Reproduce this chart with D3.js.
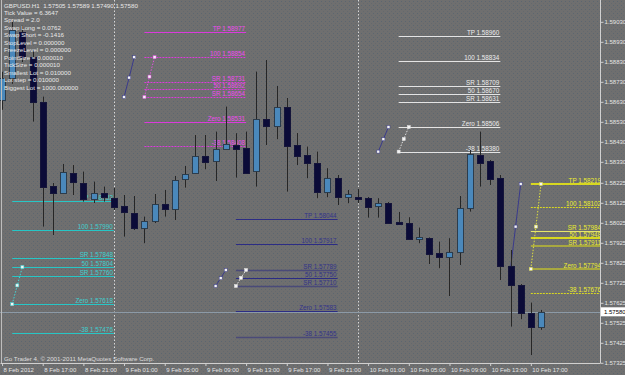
<!DOCTYPE html>
<html><head><meta charset="utf-8">
<script src="https://cdn.jsdelivr.net/npm/d3@7"></script>
<style>
html,body{margin:0;padding:0;background:#6d6d6d;}
svg{display:block;font-family:"Liberation Sans",Arial,sans-serif;}
</style></head><body>
<svg id="c" width="625" height="375"></svg>
<script>
// ---------- DATA ----------
const symbolHeader = "GBPUSD.H1  1.57505 1.57589 1.57490 1.57580";
const infoLines = ["Tick Value = 6.3647","Spread = 2.0","Swap Long = 0.0762","Swap Short = -0.1416",
  "StopLevel = 0.000000","FreezeLevel = 0.000000","PointSize = 0.000010","TickSize = 0.000010",
  "Smallest Lot = 0.010000","Lot step = 0.010000","Biggest Lot = 1000.000000"];
const copyright = "Go Trader 4, \u00a9 2001-2011 MetaQuotes Software Corp.";

const times = [
 "2012-02-08 13:00","2012-02-08 14:00","2012-02-08 15:00","2012-02-08 16:00","2012-02-08 17:00","2012-02-08 18:00",
 "2012-02-08 19:00","2012-02-08 20:00","2012-02-08 21:00","2012-02-08 22:00","2012-02-08 23:00",
 "2012-02-09 00:00","2012-02-09 01:00","2012-02-09 02:00","2012-02-09 03:00","2012-02-09 04:00","2012-02-09 05:00",
 "2012-02-09 06:00","2012-02-09 07:00","2012-02-09 08:00","2012-02-09 09:00","2012-02-09 10:00","2012-02-09 11:00",
 "2012-02-09 12:00","2012-02-09 13:00","2012-02-09 14:00","2012-02-09 15:00","2012-02-09 16:00","2012-02-09 17:00",
 "2012-02-09 18:00","2012-02-09 19:00","2012-02-09 20:00","2012-02-09 21:00","2012-02-09 22:00","2012-02-09 23:00",
 "2012-02-10 00:00","2012-02-10 01:00","2012-02-10 02:00","2012-02-10 03:00","2012-02-10 04:00","2012-02-10 05:00",
 "2012-02-10 06:00","2012-02-10 07:00","2012-02-10 08:00","2012-02-10 09:00","2012-02-10 10:00","2012-02-10 11:00",
 "2012-02-10 12:00","2012-02-10 13:00","2012-02-10 14:00","2012-02-10 15:00","2012-02-10 16:00","2012-02-10 17:00",
 "2012-02-10 18:00"];
const opens  = [1.58640,1.58750,1.58979,1.58854,1.58629,1.58211,1.58176,1.58274,1.58224,1.58144,1.58176,
 1.58151,1.58111,1.58076,1.57998,1.58034,1.58119,1.58093,1.58243,1.58273,1.58359,1.58336,1.58396,1.58414,1.58397,
 1.58286,1.58543,1.58511,1.58603,1.58414,1.58364,1.58326,1.58181,1.58248,1.58156,1.58154,1.58148,1.58111,1.58126,
 1.58029,1.58026,1.57943,1.57948,1.57872,1.57852,1.57881,1.58101,1.58364,1.58334,1.58248,1.57809,1.57716,1.57576,1.57505];
const highs  = [1.58780,1.59029,1.59010,1.58889,1.58656,1.58224,1.58319,1.58314,1.58281,1.58231,1.58206,
 1.58199,1.58164,1.58159,1.58056,1.58169,1.58189,1.58259,1.58309,1.58464,1.58464,1.58481,1.58606,1.58473,1.58481,
 1.58781,1.58839,1.58709,1.58649,1.58474,1.58406,1.58381,1.58298,1.58264,1.58189,1.58194,1.58154,1.58148,1.58129,
 1.58079,1.58053,1.58001,1.57952,1.57931,1.57948,1.58159,1.58389,1.58481,1.58339,1.58264,1.57889,1.57719,1.57626,1.57589];
const lows   = [1.58590,1.58720,1.58829,1.58531,1.58006,1.57964,1.58169,1.58164,1.58131,1.58124,1.58131,
 1.58089,1.57956,1.57989,1.57923,1.58024,1.58056,1.58039,1.58201,1.58269,1.58293,1.58234,1.58389,1.58251,1.58269,
 1.58206,1.58414,1.58443,1.58181,1.58314,1.58248,1.58148,1.58153,1.58114,1.58123,1.58123,1.58051,1.58051,1.58022,
 1.58019,1.57944,1.57923,1.57819,1.57798,1.57659,1.57814,1.58081,1.58206,1.58214,1.57739,1.57506,1.57543,1.57364,1.57490];
const closes = [1.58750,1.58989,1.58854,1.58631,1.58206,1.58176,1.58279,1.58229,1.58144,1.58176,1.58153,
 1.58103,1.58078,1.58001,1.58034,1.58118,1.58093,1.58238,1.58268,1.58359,1.58331,1.58394,1.58418,1.58393,1.58273,
 1.58544,1.58509,1.58603,1.58409,1.58361,1.58326,1.58181,1.58248,1.58156,1.58168,1.58144,1.58106,1.58126,1.58026,
 1.58021,1.57946,1.57953,1.57869,1.57852,1.57878,1.58101,1.58368,1.58326,1.58246,1.57809,1.57716,1.57576,1.57503,1.57580];

const priceTicks = [1.59030,1.58930,1.58830,1.58730,1.58630,1.58530,1.58430,1.58330,1.58225,1.58125,
 1.58025,1.57925,1.57825,1.57725,1.57625,1.57525,1.57425,1.57325];
const timeTicks = ["2012-02-08 13:00","2012-02-08 17:00","2012-02-08 21:00","2012-02-09 01:00","2012-02-09 05:00",
 "2012-02-09 09:00","2012-02-09 13:00","2012-02-09 17:00","2012-02-09 21:00","2012-02-10 01:00","2012-02-10 05:00",
 "2012-02-10 09:00","2012-02-10 13:00","2012-02-10 17:00"];
const timeTickLabels = ["8 Feb 2012","8 Feb 17:00","8 Feb 21:00","9 Feb 01:00","9 Feb 05:00","9 Feb 09:00",
 "9 Feb 13:00","9 Feb 17:00","9 Feb 21:00","10 Feb 01:00","10 Feb 05:00","10 Feb 09:00","10 Feb 13:00","10 Feb 17:00"];
const separators = ["2012-02-09 00:00","2012-02-10 00:00","2012-02-11 00:00"];
const currentPrice = 1.57580;

// Fibonacci objects
const fibLevelNames = ["TP","100","SR","50","SR","Zero","-38"];
const cyanPrices    = [1.58132,1.57990,1.57848,1.57804,1.57760,1.57618,1.57476];
const magentaPrices = [1.58977,1.58854,1.58731,1.58692,1.58654,1.58531,1.58408];
const navyPrices    = [1.58044,1.57917,1.57789,1.57750,1.57710,1.57583,1.57455];
const whitePrices   = [1.58960,1.58834,1.58709,1.58670,1.58631,1.58506,1.58380];
const yellowPrices  = [1.58219,1.58102,1.57984,1.57948,1.57911,1.57794,1.57676];
const cyanSpan    = ["2012-02-08 14:00","2012-02-09 00:00"];
const magentaSpan = ["2012-02-09 03:00","2012-02-09 13:00"];
const navySpan    = ["2012-02-09 12:00","2012-02-09 22:00"];
const whiteSpan   = ["2012-02-10 04:00","2012-02-10 14:00"];
const yellowSpan  = ["2012-02-10 17:00","2012-02-11 00:00"];

// small 3-point diagonal lines: times and prices
const diagTimes = [
 ["2012-02-08 14:00","2012-02-08 14:30","2012-02-08 15:00"],
 ["2012-02-09 01:00","2012-02-09 01:30","2012-02-09 02:00"],
 ["2012-02-09 03:00","2012-02-09 03:30","2012-02-09 04:00"],
 ["2012-02-09 10:00","2012-02-09 10:30","2012-02-09 11:00"],
 ["2012-02-09 12:00","2012-02-09 12:30","2012-02-09 13:00"],
 ["2012-02-10 02:00","2012-02-10 02:30","2012-02-10 03:00"],
 ["2012-02-10 04:00","2012-02-10 04:30","2012-02-10 05:00"],
 ["2012-02-10 15:00","2012-02-10 15:30","2012-02-10 16:00"],
 ["2012-02-10 17:00","2012-02-10 17:30","2012-02-10 18:00"]];
const diagPrices = [
 [1.57618,1.57712,1.57804],
 [1.58654,1.58751,1.58853],
 [1.58654,1.58756,1.58853],
 [1.57709,1.57748,1.57789],
 [1.57709,1.57750,1.57789],
 [1.58381,1.58443,1.58504],
 [1.58381,1.58444,1.58504],
 [1.57794,1.58006,1.58219],
 [1.57794,1.58006,1.58219]];

// ---------- DRAW ----------
const parse = d3.utcParse("%Y-%m-%d %H:%M");
const svg = d3.select("#c");
const W = 600, H = 362.8;

const x = d3.scaleUtc()
  .domain([parse("2012-02-08 12:48"), parse("2012-02-10 23:48")])
  .range([0, W]);
const y = d3.scaleLinear().domain([1.57325, 1.59030]).range([362.8, 21.8]);

// background with speckle
const defs = svg.append("defs");
const pat = defs.append("pattern").attr("id","sp").attr("width",4).attr("height",4).attr("patternUnits","userSpaceOnUse");
pat.append("rect").attr("width",4).attr("height",4).attr("fill","#6f6f6f");
pat.append("rect").attr("x",1).attr("y",1).attr("width",1).attr("height",1).attr("fill","#5b6670");
pat.append("rect").attr("x",3).attr("y",3).attr("width",1).attr("height",1).attr("fill","#64696e");
svg.append("rect").attr("width",625).attr("height",375).attr("fill","url(#sp)");

const clip = defs.append("clipPath").attr("id","plot");
clip.append("rect").attr("x",0).attr("y",0).attr("width",W).attr("height",H);
const g = svg.append("g").attr("clip-path","url(#plot)");

// separators
g.selectAll("line.sep").data(separators).join("line")
  .attr("x1",d=>Math.round(x(parse(d)))+0.5).attr("x2",d=>Math.round(x(parse(d)))+0.5)
  .attr("y1",0).attr("y2",H).attr("stroke","#d8d8d8").attr("stroke-dasharray","1.5,2").attr("stroke-width",1);

// bid line
g.append("line").attr("x1",0).attr("x2",W).attr("y1",Math.round(y(currentPrice))+0.5).attr("y2",Math.round(y(currentPrice))+0.5)
  .attr("stroke","#8d9aa6").attr("stroke-width",1);

// fibs
function drawFib(prices, span, color, labelColor, styles){
  const x1 = x(parse(span[0])), x2 = x(parse(span[1]));
  const fg = g.append("g");
  prices.forEach((p,i)=>{
    const st = styles[i];
    const yy = Math.round(y(p)) + (st.w===2?0:0.5);
    fg.append("line").attr("x1",x1).attr("x2",x2).attr("y1",yy).attr("y2",yy)
      .attr("stroke",st.c||color).attr("stroke-width",st.w||1)
      .attr("stroke-dasharray",st.d||null);
    fg.append("text").attr("x",x2-1).attr("y",yy-1.5).attr("text-anchor","end")
      .attr("font-size",6.3).attr("fill",labelColor)
      .text(fibLevelNames[i]+" "+p.toFixed(5));
  });
}
const S = (w,d,c)=>({w,d,c});
drawFib(cyanPrices, cyanSpan, "#27c6c6", "#3fd0d0", [S(1),S(1),S(1),S(1),S(1),S(1),S(1)]);
drawFib(magentaPrices, magentaSpan, "#dc3adc", "#f04af0", [S(1),S(1,"2,1"),S(1,"2,1"),S(1,"2,1"),S(1,"2,1"),S(1),S(1,"2,1")]);
drawFib(navyPrices, navySpan, "#2c2c84", "#33338a", [S(1),S(1),S(1.5,null,"#4a4a78"),S(1),S(1.5,null,"#4a4a78"),S(1),S(1.5,null,"#4a4a78")]);
drawFib(whitePrices, whiteSpan, "#e4e4e4", "#ececec", [S(1),S(1),S(1),S(1),S(1),S(1),S(1)]);
drawFib(yellowPrices, yellowSpan, "#d8d820", "#ecec30",
  [S(2),S(1,"2,1"),S(1,null,"#e6e66a"),S(2),S(2,null,"#a8a840"),S(2,null,"#a8a840"),S(1,"2,1")]);

// diagonals
const diagStyles = [
  {c:"#40d8d8",d:"1.5,1.5"},{c:"#3a3a8c"},{c:"#e050e0",d:"1.5,1.5"},{c:"#3a3a8c"},{c:"#e0e0e0",d:"1.5,1.5"},
  {c:"#3a3a8c"},{c:"#e0e0e0",d:"1.5,1.5"},{c:"#3a3a8c"},{c:"#e0e040",d:"1.5,1.5"}];
diagTimes.forEach((ts,i)=>{
  const pts = ts.map((t,j)=>[x(parse(t)), y(diagPrices[i][j])]);
  g.append("path").attr("d",d3.line()(pts)).attr("fill","none")
    .attr("stroke",diagStyles[i].c).attr("stroke-width",1).attr("stroke-dasharray",diagStyles[i].d||null);
  g.selectAll(null).data(pts).join("rect")
    .attr("x",d=>d[0]-1.5).attr("y",d=>d[1]-1.5).attr("width",3).attr("height",3)
    .attr("fill","#f4f4f4").attr("stroke",diagStyles[i].c).attr("stroke-width",0.5);
});

// candles
const bars = times.map((t,i)=>({t:parse(t),o:opens[i],h:highs[i],l:lows[i],c:closes[i]}));
const cg = g.append("g");
cg.selectAll("line.wick").data(bars).join("line")
  .attr("x1",d=>Math.round(x(d.t))+0.5).attr("x2",d=>Math.round(x(d.t))+0.5)
  .attr("y1",d=>y(d.h)).attr("y2",d=>y(d.l)).attr("stroke","#262626").attr("stroke-width",1);
cg.selectAll("rect.body").data(bars).join("rect")
  .attr("x",d=>Math.round(x(d.t))-2.5)
  .attr("y",d=>Math.round(y(Math.max(d.o,d.c)))+0.5)
  .attr("width",6)
  .attr("height",d=>Math.max(1,Math.round(y(Math.min(d.o,d.c)))-Math.round(y(Math.max(d.o,d.c)))))
  .attr("fill",d=>d.c>=d.o?"#4a88bb":"#0b0b38")
  .attr("stroke",d=>d.c>=d.o?"#2c3c4c":"#15153a").attr("stroke-width",1);

// info text
const tg = svg.append("g").attr("font-size",6.2).attr("fill","#e8e8e8");
tg.append("text").attr("x",4).attr("y",8).text(symbolHeader).attr("xml:space","preserve").style("white-space","pre");
tg.selectAll("text.info").data(infoLines).join("text").attr("class","info")
  .attr("x",4).attr("y",(d,i)=>14.8+7.5*i).text(d=>d);
svg.append("text").attr("x",4).attr("y",361).attr("font-size",6.2).attr("fill","#dedede").text(copyright);

// frame
svg.append("line").attr("x1",1.5).attr("x2",1.5).attr("y1",0).attr("y2",363).attr("stroke","#bdbdbd");

// axes
const ax = svg.append("g").attr("transform","translate(0,363)")
  .call(d3.axisBottom(x).tickValues(timeTicks.map(parse)).tickSize(3).tickSizeOuter(0)
    .tickFormat((d,i)=>timeTickLabels[i]));
ax.select(".domain").attr("stroke","#d0d0d0").attr("d","M0.5,0.5H600.5");
ax.selectAll(".tick line").attr("stroke","#d0d0d0");
ax.selectAll(".tick text").attr("text-anchor","start").attr("x",1).attr("y",5)
  .attr("font-size",6).attr("fill","#e4e4e4").attr("font-family","Liberation Sans, Arial, sans-serif");

const ay = svg.append("g").attr("transform","translate(600.5,0)")
  .call(d3.axisRight(y).tickValues(priceTicks).tickSize(3).tickSizeOuter(0).tickFormat(d3.format(".5f")));
ay.select(".domain").attr("stroke","#d0d0d0").attr("d","M0,0V363");
ay.selectAll(".tick line").attr("stroke","#d0d0d0");
ay.selectAll(".tick text").attr("x",4).attr("font-size",6).attr("fill","#e4e4e4")
  .attr("font-family","Liberation Sans, Arial, sans-serif");

// current price box
const cy = y(currentPrice);
svg.append("rect").attr("x",601).attr("y",cy-4.5).attr("width",24).attr("height",9).attr("fill","#ffffff");
svg.append("text").attr("x",604).attr("y",cy+2.2).attr("font-size",6).attr("fill","#000").text(currentPrice.toFixed(5));
</script>
</body></html>
